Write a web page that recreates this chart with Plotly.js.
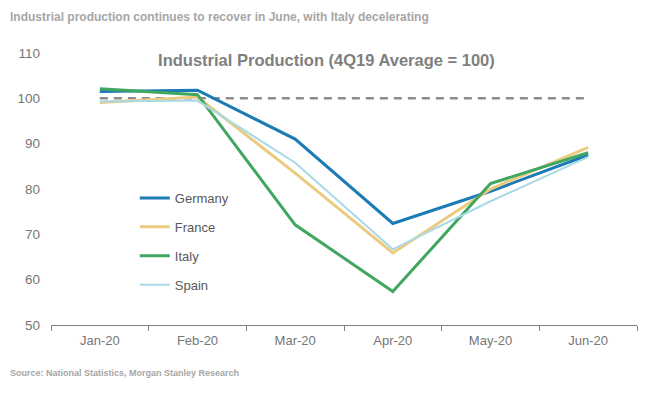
<!DOCTYPE html>
<html>
<head>
<meta charset="utf-8">
<script src="https://cdn.plot.ly/plotly-3.0.1.min.js"></script>
<style>
html,body{margin:0;padding:0;background:#fff;}
#chart{width:649px;height:394px;}
</style>
</head>
<body>
<div id="chart"></div>
<script>
const months = ["Jan-20", "Feb-20", "Mar-20", "Apr-20", "May-20", "Jun-20"];
const germany = [101.5, 101.8, 91.0, 72.4, 79.5, 87.5];
const france  = [99.1, 100.3, 83.5, 65.9, 80.0, 89.2];
const italy   = [102.1, 100.8, 72.1, 57.4, 81.2, 88.0];
const spain   = [99.3, 99.5, 85.8, 66.7, 77.3, 87.1];
const baseline = [100, 100, 100, 100, 100, 100];
const yTicks = [50, 60, 70, 80, 90, 100, 110];

const FONT = "Liberation Sans, Arial, sans-serif";

const series = [
  {name: "Germany", y: germany, color: "#1b7bb6", width: 3},
  {name: "France",  y: france,  color: "#ebcb80", width: 3},
  {name: "Italy",   y: italy,   color: "#40a660", width: 3},
  {name: "Spain",   y: spain,   color: "#a9d9e7", width: 2}
];

const traces = [{
  x: months, y: baseline, mode: "lines", showlegend: false, hoverinfo: "skip",
  line: {color: "#8c8c8c", width: 2.5, dash: "8px,6px"}
}];
series.forEach(s => traces.push({
  x: months, y: s.y, name: s.name, mode: "lines", legendgroup: s.name,
  line: {color: s.color, width: s.width}
}));

const layout = {
  width: 649, height: 394,
  margin: {l: 51, r: 12, t: 53, b: 69},
  paper_bgcolor: "#fff", plot_bgcolor: "#fff",
  font: {family: FONT, color: "#595959", size: 13},
  title: {
    text: "<b>Industrial Production (4Q19 Average = 100)</b>",
    font: {family: FONT, size: 16.5, color: "#7f7f7f"},
    x: 0.503, xanchor: "center", y: 0.848, yanchor: "middle"
  },
  showlegend: true,
  legend: {
    x: 0.143, y: 0.522, xanchor: "left", yanchor: "top",
    traceorder: "grouped", tracegroupgap: 9,
    font: {family: FONT, size: 13, color: "#595959"},
    bgcolor: "rgba(0,0,0,0)"
  },
  xaxis: {
    type: "category", range: [-0.5, 5.5],
    showgrid: false, zeroline: false,
    showline: true, linecolor: "#808080", linewidth: 1,
    ticks: "outside", tickson: "boundaries", ticklen: 5, tickcolor: "#808080",
    ticklabelstandoff: 3,
    tickfont: {family: FONT, size: 13, color: "#767676"}
  },
  yaxis: {
    range: [50, 110], tickvals: yTicks,
    showgrid: false, zeroline: false, showline: false,
    ticks: "", ticklabelstandoff: 10,
    tickfont: {family: FONT, size: 13.5, color: "#767676"}
  },
  annotations: [
    {text: "<b>Industrial production continues to recover in June, with Italy decelerating</b>",
     xref: "paper", yref: "paper", x: -51/586, y: (325-17)/272, xanchor: "left", yanchor: "middle",
     xshift: 8, showarrow: false, font: {family: FONT, size: 12, color: "#a6a6a6"}},
    {text: "<b>Source: National Statistics, Morgan Stanley Research</b>",
     xref: "paper", yref: "paper", x: -51/586, y: (325-373)/272, xanchor: "left", yanchor: "middle",
     xshift: 8, showarrow: false, font: {family: FONT, size: 9, color: "#a6a6a6"}}
  ]
};

Plotly.newPlot("chart", traces, layout, {displayModeBar: false, staticPlot: true});
</script>
</body>
</html>
